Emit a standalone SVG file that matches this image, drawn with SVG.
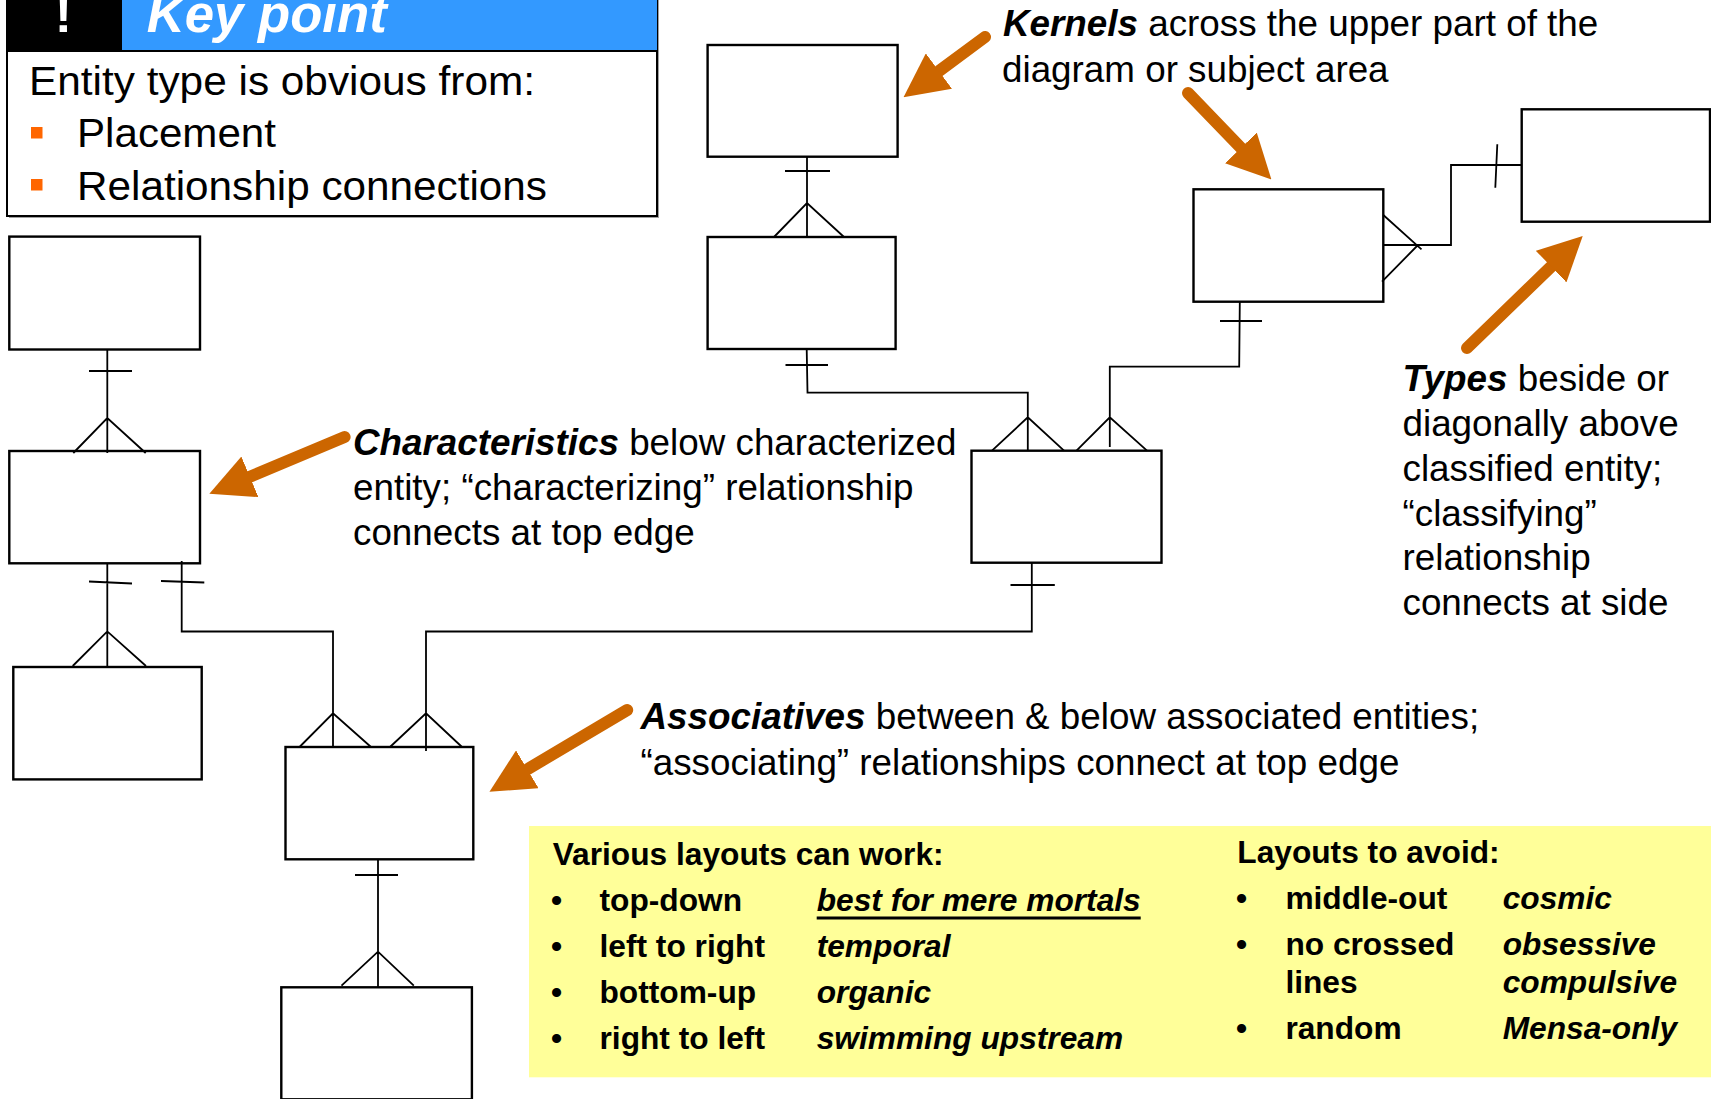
<svg xmlns="http://www.w3.org/2000/svg" width="1711" height="1099" viewBox="0 0 1711 1099">
  <defs>
    <style>
      .box { fill: #fff; stroke: #000; stroke-width: 2.4; }
      .ln { fill: none; stroke: #000; stroke-width: 1.8; }
      .note { font-family: "Liberation Sans", Arial, Helvetica, sans-serif; font-size: 36.8px; fill: #000; }
      .em { font-weight: bold; font-style: italic; }
      .key { font-family: "Liberation Sans", Arial, Helvetica, sans-serif; font-size: 40px; fill: #000; }
      .yl { font-family: "Liberation Sans", Arial, Helvetica, sans-serif; font-size: 31.7px; font-weight: bold; fill: #000; }
      .it { font-style: italic; }
      .arrow { fill: none; stroke: #CC6600; stroke-width: 12; stroke-linecap: round; marker-end: url(#ah); }
    </style>
    <marker id="ah" viewBox="0 0 44 44" refX="0" refY="22" markerWidth="44" markerHeight="44" markerUnits="userSpaceOnUse" orient="auto">
      <path d="M0,0 L44,22 L0,44 Z" fill="#CC6600"/>
    </marker>
  </defs>

  <rect width="1711" height="1099" fill="#fff"/>

  <!-- Key point panel -->
  <g id="key-point">
    <rect x="9" y="-4" width="650" height="222" fill="#a0a0a0"/>
    <rect x="7" y="-6" width="650" height="222" fill="#fff" stroke="#000" stroke-width="2"/>
    <rect x="7" y="-6" width="115" height="57" fill="#000"/>
    <rect x="122" y="-6" width="535" height="57" fill="#3399FF"/>
    <line x1="7" y1="51" x2="657" y2="51" stroke="#000" stroke-width="2"/>
    <text x="63.5" y="32" text-anchor="middle" font-family="Liberation Sans, Arial, sans-serif" font-size="52" font-weight="bold" fill="#fff">!</text>
    <text x="146.7" y="32.3" font-family="Liberation Sans, Arial, sans-serif" font-size="52.7" font-weight="bold" font-style="italic" fill="#fff" textLength="240" lengthAdjust="spacingAndGlyphs">Key point</text>
    <text class="key" x="29" y="95" textLength="506" lengthAdjust="spacingAndGlyphs">Entity type is obvious from:</text>
    <rect x="31" y="127" width="11.5" height="11.5" fill="#FF6600"/>
    <text class="key" x="77" y="147" textLength="199" lengthAdjust="spacingAndGlyphs">Placement</text>
    <rect x="31" y="179" width="11.5" height="11.5" fill="#FF6600"/>
    <text class="key" x="77" y="200" textLength="470" lengthAdjust="spacingAndGlyphs">Relationship connections</text>
  </g>

  <!-- Entities -->
  <g id="entity-l1"><rect class="box" x="9.3" y="236.6" width="190.7" height="112.9"/></g>
  <g id="entity-l2"><rect class="box" x="9.3" y="451" width="190.7" height="112.3"/></g>
  <g id="entity-l3"><rect class="box" x="13.3" y="667" width="188.4" height="112.4"/></g>
  <g id="entity-k1"><rect class="box" x="707.6" y="45" width="190" height="111.7"/></g>
  <g id="entity-k2"><rect class="box" x="707.6" y="237" width="188" height="112"/></g>
  <g id="entity-k3"><rect class="box" x="1193.5" y="189.3" width="189.8" height="112.4"/></g>
  <g id="entity-type"><rect class="box" x="1521.7" y="109.3" width="188.3" height="112.4"/></g>
  <g id="entity-m"><rect class="box" x="971.5" y="450.7" width="190" height="112"/></g>
  <g id="entity-a"><rect class="box" x="285.5" y="747" width="187.8" height="112.3"/></g>
  <g id="entity-b"><rect class="box" x="281.3" y="987.3" width="190.6" height="112"/></g>

  <!-- Relationship lines -->
  <g id="connectors">
    <!-- L1 to L2 -->
    <path class="ln" d="M107.3,349.5 V453 M89,371 H132 M73.3,453 L107.3,418 L145.7,453"/>
    <!-- L2 to L3 -->
    <path class="ln" d="M107.3,563.3 V667 M89,581.5 L132,583.5 M72.7,666 L107.3,631.4 L146,666"/>
    <!-- L2 to A -->
    <path class="ln" d="M181.7,561 V631.5 H333 V747 M161,581 L204.3,582.5 M299.5,747 L333,713.3 L371,747"/>
    <!-- M to A -->
    <path class="ln" d="M1031.8,562.7 V631.5 H426 V751 M1010.5,585 H1054.8 M390,747 L426,713.3 L462,747"/>
    <!-- K2 to M -->
    <path class="ln" d="M806.7,349 L807.5,392.7 H1027.8 V450.7 M785.5,365 H828 M992,450.7 L1027.8,417.3 L1064,450.7"/>
    <!-- K3 to M -->
    <path class="ln" d="M1239.8,301.7 L1239.2,366.7 H1109.8 V447 M1220,321 H1262 M1076.5,450.7 L1109.8,417.3 L1147,450.7"/>
    <!-- K1 to K2 -->
    <path class="ln" d="M807,156.7 V237 M785,171 H830 M774,237 L807,203 L844,237"/>
    <!-- K3 to type -->
    <path class="ln" d="M1383.3,245 H1451 V165 H1521.7 M1497.3,144.3 L1495.3,187.7 M1383.3,215 L1421.5,249.3 M1382,281.7 L1417,246"/>
    <!-- A to B -->
    <path class="ln" d="M378,859.3 V987.3 M355,875 H398 M341.5,985.7 L378,951.7 L413.8,985.7"/>
  </g>

  <!-- Callout arrows -->
  <g id="callout-arrows">
    <path class="arrow" d="M985,37 L938.9,71.1"/>
    <path class="arrow" d="M1188,93 L1240.9,147.9"/>
    <path class="arrow" d="M1467,348 L1551.1,266.6"/>
    <path class="arrow" d="M344.6,437 L249.9,476.8"/>
    <path class="arrow" d="M627.2,710 L527.3,769.3"/>
  </g>

  <!-- Annotations -->
  <g id="note-kernels">
    <text class="note" x="1003" y="36"><tspan class="em">Kernels</tspan> across the upper part of the</text>
    <text class="note" x="1002" y="82">diagram or subject area</text>
  </g>
  <g id="note-characteristics">
    <text class="note" x="353" y="455"><tspan class="em">Characteristics</tspan> below characterized</text>
    <text class="note" x="353" y="500">entity; “characterizing” relationship</text>
    <text class="note" x="353" y="544.5">connects at top edge</text>
  </g>
  <g id="note-types">
    <text class="note" x="1402.5" y="391"><tspan class="em">Types</tspan> beside or</text>
    <text class="note" x="1402.5" y="436">diagonally above</text>
    <text class="note" x="1402.5" y="481">classified entity;</text>
    <text class="note" x="1402.5" y="526">“classifying”</text>
    <text class="note" x="1402.5" y="570">relationship</text>
    <text class="note" x="1402.5" y="615">connects at side</text>
  </g>
  <g id="note-associatives">
    <text class="note" x="640.5" y="729.3"><tspan class="em">Associatives</tspan> between &amp; below associated entities;</text>
    <text class="note" x="640.5" y="775">“associating” relationships connect at top edge</text>
  </g>

  <!-- Layout summary panel -->
  <g id="layouts-panel">
    <rect x="529" y="826" width="1182" height="251.3" fill="#FFFF99"/>
    <text class="yl" x="552.7" y="865">Various layouts can work:</text>
    <text class="yl" x="551" y="911">•</text>
    <text class="yl" x="599.5" y="911">top-down</text>
    <text class="yl it" x="816.7" y="911">best for mere mortals</text>
    <rect x="816.7" y="916.5" width="324" height="3" fill="#000"/>
    <text class="yl" x="551" y="957">•</text>
    <text class="yl" x="599.5" y="957">left to right</text>
    <text class="yl it" x="816.7" y="957">temporal</text>
    <text class="yl" x="551" y="1003">•</text>
    <text class="yl" x="599.5" y="1003">bottom-up</text>
    <text class="yl it" x="816.7" y="1003">organic</text>
    <text class="yl" x="551" y="1049">•</text>
    <text class="yl" x="599.5" y="1049">right to left</text>
    <text class="yl it" x="816.7" y="1049">swimming upstream</text>

    <text class="yl" x="1237.3" y="863">Layouts to avoid:</text>
    <text class="yl" x="1236" y="909">•</text>
    <text class="yl" x="1285.4" y="909">middle-out</text>
    <text class="yl it" x="1502.7" y="909">cosmic</text>
    <text class="yl" x="1236" y="955">•</text>
    <text class="yl" x="1285.4" y="955">no crossed</text>
    <text class="yl it" x="1502.7" y="955">obsessive</text>
    <text class="yl" x="1285.4" y="993">lines</text>
    <text class="yl it" x="1502.7" y="993">compulsive</text>
    <text class="yl" x="1236" y="1039">•</text>
    <text class="yl" x="1285.4" y="1039">random</text>
    <text class="yl it" x="1502.7" y="1039">Mensa-only</text>
  </g>
</svg>
